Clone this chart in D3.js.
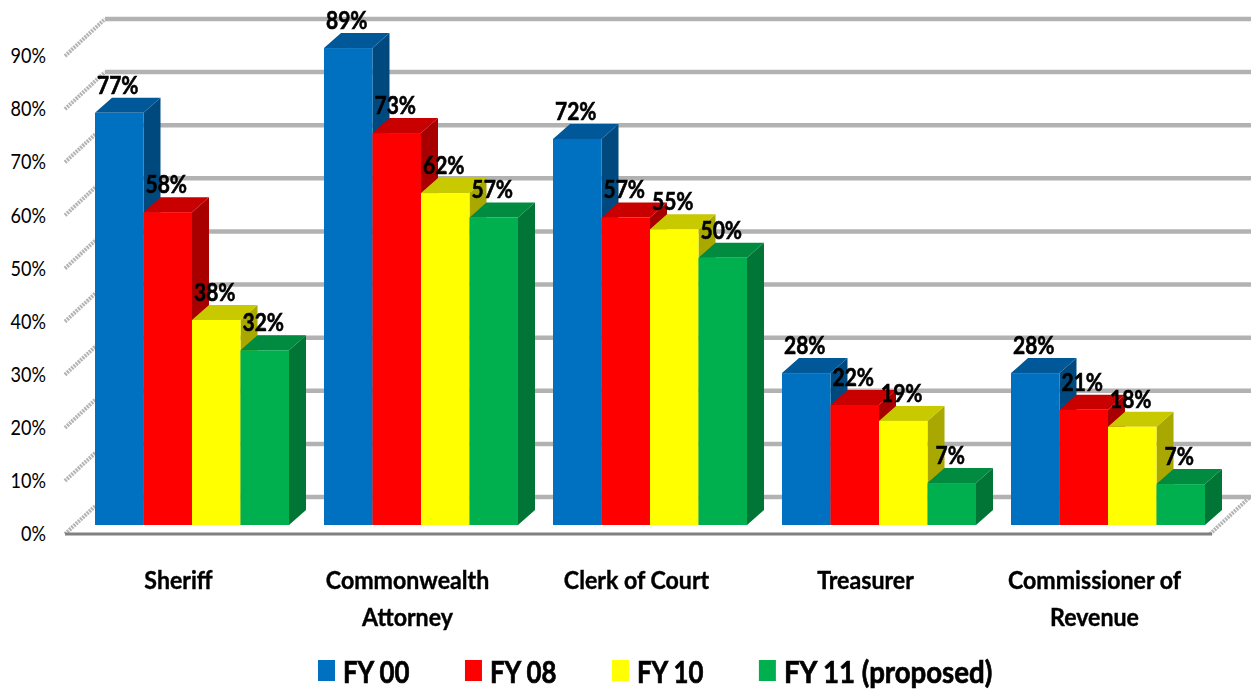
<!DOCTYPE html>
<html>
<head>
<meta charset="utf-8">
<script src="https://cdn.jsdelivr.net/npm/d3@7"></script>
<style>
    html, body { margin: 0; padding: 0; background: #fff; overflow: hidden; }
    text { font-family: Lato, "Open Sans", sans-serif; fill: #000; }
</style>
</head>
<body>
<div id="chart"></div>
<script>
// Chart data
const categories = ["Sheriff", "Commonwealth Attorney", "Clerk of Court", "Treasurer", "Commissioner of Revenue"];
const seriesNames = ["FY 00", "FY 08", "FY 10", "FY 11 (proposed)"];
const seriesColors = ["#0070C0", "#FF0000", "#FFFF00", "#00B050"];
const fy00 = [77.6, 89.8, 72.7, 28.6, 28.6];
const fy08 = [58.9, 73.8, 57.9, 22.6, 21.7];
const fy10 = [38.6, 62.5, 55.7, 19.6, 18.5];
const fy11 = [32.9, 57.9, 50.3, 7.9, 7.7];
const yTicks = [0, 10, 20, 30, 40, 50, 60, 70, 80, 90];

const width = 1251;
const height = 690;

// Front edge of the floor
const floor = { left: 65, right: 1210, y: 534 };
const wall = { dx: 40, dy: -37 };  // depth of the whole chart box
const inset = { dx: 13, dy: -9 };  // where bars stand inside the box
const bar = { dx: 17, dy: -15 };   // depth of one bar

const svg = d3
    .select("#chart")
    .append("svg")
    .attr("width", width)
    .attr("height", height);

const soft = svg.append("defs").append("filter").attr("id", "soft");
soft.append("feGaussianBlur").attr("stdDeviation", 0.45);

// Lato runs wider than the reference face, so narrow the text a bit
function squeeze(node, k) {
    d3.select(node)
        .attr("textLength", node.getComputedTextLength() * k)
        .attr("lengthAdjust", "spacingAndGlyphs");
}

const x = d3.scaleBand().domain(categories).range([floor.left, floor.right]);
const xSeries = d3
    .scaleBand()
    .domain(seriesNames)
    .range([17, x.bandwidth() - 18]);
const y = d3.scaleLinear().domain([0, 90]).range([floor.y, 56]);

// Back wall lines and the left wall diagonals
const walls = svg.append("g").attr("filter", "url(#soft)");
walls
    .selectAll(".grid")
    .data(yTicks)
    .join("line")
    .attr("class", "grid")
    .attr("x1", floor.left + wall.dx)
    .attr("x2", width)
    .attr("y1", (d) => y(d) + wall.dy)
    .attr("y2", (d) => y(d) + wall.dy)
    .attr("stroke", "#b2b2b2")
    .attr("stroke-width", 4.5);
walls
    .selectAll(".diag")
    .data(yTicks)
    .join("line")
    .attr("class", "diag")
    .attr("x1", floor.left)
    .attr("x2", floor.left + wall.dx)
    .attr("y1", (d) => y(d))
    .attr("y2", (d) => y(d) + wall.dy)
    .attr("stroke", "#b4b4b4")
    .attr("stroke-width", 4)
    .attr("stroke-dasharray", "2 1");
walls
    .append("line")
    .attr("x1", floor.right)
    .attr("x2", floor.right + wall.dx)
    .attr("y1", floor.y)
    .attr("y2", floor.y + wall.dy)
    .attr("stroke", "#b4b4b4")
    .attr("stroke-width", 4)
    .attr("stroke-dasharray", "2 1");
walls
    .append("line")
    .attr("x1", floor.left)
    .attr("x2", floor.right + 2)
    .attr("y1", floor.y)
    .attr("y2", floor.y)
    .attr("stroke", "#808080")
    .attr("stroke-width", 3);

// Bars: series by series, so the next front face covers the last side face
const allSeries = [fy00, fy08, fy10, fy11];
const rows = [];
allSeries.forEach((values, s) => {
    values.forEach((value, c) => {
        rows.push({ category: categories[c], series: seriesNames[s], color: seriesColors[s], value });
    });
});
rows.sort((a, b) => categories.indexOf(a.category) - categories.indexOf(b.category));

const shade = (color, k) => {
    const c = d3.rgb(color);
    return d3.rgb(c.r * k, c.g * k, c.b * k).formatHex();
};
const x0 = (d) => x(d.category) + xSeries(d.series) + inset.dx;
const x1 = (d) => x0(d) + xSeries.bandwidth();
const yTop = (d) => y(d.value) + inset.dy;
const yBase = y(0) + inset.dy;

const bars = svg
    .append("g")
    .attr("filter", "url(#soft)")
    .selectAll("g")
    .data(rows)
    .join("g");

bars.append("path")
    .attr("fill", (d) => shade(d.color, 0.66))
    .attr("d", (d) => `M${x1(d)},${yBase}L${x1(d) + bar.dx},${yBase + bar.dy}L${x1(d) + bar.dx},${yTop(d) + bar.dy}L${x1(d)},${yTop(d)}Z`);
bars.append("path")
    .attr("fill", (d) => shade(d.color, 0.79))
    .attr("d", (d) => `M${x0(d)},${yTop(d)}L${x0(d) + bar.dx},${yTop(d) + bar.dy}L${x1(d) + bar.dx},${yTop(d) + bar.dy}L${x1(d)},${yTop(d)}Z`);
bars.append("rect")
    .attr("x", x0)
    .attr("y", yTop)
    .attr("width", xSeries.bandwidth())
    .attr("height", (d) => yBase - yTop(d))
    .attr("fill", (d) => d.color);

// Value labels on top of everything
svg.append("g")
    .attr("filter", "url(#soft)")
    .selectAll("text")
    .data(rows)
    .join("text")
    .attr("x", (d) => x0(d) + xSeries.bandwidth() / 2 - 1.5)
    .attr("y", (d) => yTop(d) - 19)
    .attr("text-anchor", "middle")
    .attr("font-size", 25)
    .attr("font-weight", "bold")
    .attr("stroke", "#000")
    .attr("stroke-width", 0.6)
    .text((d) => Math.floor(d.value) + "%")
    .each(function () { squeeze(this, 0.84); });

// Axes, only the labels show
const yAxis = svg
    .append("g")
    .attr("transform", "translate(46,0)")
    .call(d3.axisLeft(y).tickValues(yTicks).tickFormat((d) => d + "%").tickSize(0).tickPadding(0));
yAxis.select(".domain").remove();
yAxis.selectAll("text")
    .attr("font-size", 21)
    .style("font-family", "Lato")
    .each(function () { squeeze(this, 0.86); });

const xAxis = svg
    .append("g")
    .attr("transform", `translate(0,${floor.y})`)
    .attr("filter", "url(#soft)")
    .call(d3.axisBottom(x).tickSize(0).tickPadding(0));
xAxis.select(".domain").remove();
xAxis.selectAll("text")
    .attr("font-size", 24)
    .attr("font-weight", "bold")
    .style("font-family", "Lato")
    .attr("stroke", "#000")
    .attr("stroke-width", 0.4)
    .each(function (d) {
        // wrap long names on two lines
        const label = d3.select(this).text(null).attr("y", 0).attr("dy", null);
        const words = d.split(" ");
        const lines = d.length > 15 ? [words.slice(0, -1).join(" "), words[words.length - 1]] : [d];
        lines.forEach((line, i) => {
            const span = label.append("tspan")
                .attr("x", -1)
                .attr("y", 55 + i * 37)
                .text(line);
            squeeze(span.node(), 0.965);
        });
    });

// Legend, laid out one entry after the other
const legendSqueeze = [0.86, 0.86, 0.86, 0.92];
const legend = svg.append("g").attr("transform", "translate(318,0)").attr("filter", "url(#soft)");
let legendX = 0;
seriesNames.forEach((name, i) => {
    legend.append("rect")
        .attr("x", legendX)
        .attr("y", 660)
        .attr("width", 17)
        .attr("height", 21)
        .attr("fill", seriesColors[i]);
    const label = legend.append("text")
        .attr("x", legendX + 25)
        .attr("y", 683)
        .attr("font-size", 31)
        .attr("font-weight", "bold")
        .attr("stroke", "#000")
        .attr("stroke-width", 0.7)
        .text(name);
    const labelWidth = 30 / 31 * label.node().getComputedTextLength() * legendSqueeze[i];
    squeeze(label.node(), 30 / 31 * legendSqueeze[i]);
    legendX += 26 + labelWidth + 54.5;
});
</script>
</body>
</html>
